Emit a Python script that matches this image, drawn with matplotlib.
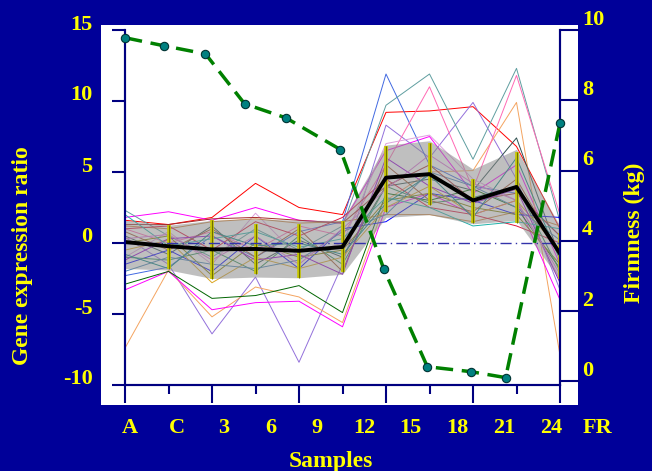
import numpy as np
import matplotlib
matplotlib.use("Agg")
import matplotlib.pyplot as plt
import matplotlib.transforms as mtransforms
from matplotlib.patches import Rectangle

plt.rcParams["axes.unicode_minus"] = False

# ---- data ----
samples = ["A", "C", "3", "6", "9", "12", "15", "18", "21", "24", "FR"]

# individual gene profiles (log ratio)
gene_profiles = {
    "red":          [1.6, 1.3, 1.8, 4.2, 2.5, 2.0, 9.2, 9.3, 9.6, 6.8, 1.0],
    "magenta":      [1.8, 2.2, 1.6, 2.5, 1.6, 1.4, 6.5, 7.5, 3.5, 5.5, -1.5],
    "mediumpurple": [0.4, -1.5, -6.4, -2.4, -8.4, -1.5, 8.3, 6.0, 9.9, 4.5, -3.3],
    "sandybrown":   [-7.4, -1.9, -5.2, -3.1, -3.8, -5.6, 3.0, 5.0, 5.1, 9.9, -7.9],
    "fuchsia":      [-3.3, -2.0, -4.7, -4.2, -4.1, -5.9, 2.5, 3.5, 2.0, 3.0, -4.0],
    "darkgreen":    [-2.9, -2.0, -3.9, -3.7, -3.0, -4.9, 3.5, 3.0, 3.8, 2.5, -1.8],
    "royalblue":    [-2.3, -1.7, 0.5, -1.0, 0.8, 1.5, 11.9, 5.5, 4.0, 3.5, 0.5],
    "cadetblue":    [2.3, 0.5, -1.0, 1.0, -0.5, 1.2, 9.7, 11.9, 5.9, 12.3, 1.5],
    "hotpink":      [1.0, 0.0, 0.8, -0.5, 1.2, 0.5, 5.5, 11.0, 3.8, 11.8, 2.0],
    "darkslategray":[0.5, -0.8, 1.2, -1.5, 0.2, -1.0, 4.0, 4.5, 3.7, 7.4, -1.0],
    "plum":         [-1.0, 0.8, -1.5, 2.1, -1.0, 0.0, 7.0, 7.6, 4.5, 3.0, -2.5],
    "peru":         [1.2, 1.0, 1.5, 1.7, 1.4, 1.5, 2.0, 2.0, 1.5, 2.2, 1.2],
    "blue":         [-1.5, -0.5, -2.0, 0.5, -1.8, 1.0, 1.5, 3.5, 3.0, 2.0, 1.8],
    "crimson":      [1.0, 1.2, -0.5, 1.5, 0.5, 1.8, 4.5, 2.5, 2.0, 1.2, 0.0],
    "olive":        [0.0, 0.5, -2.3, 0.0, -1.0, -0.5, 3.0, 3.5, 2.5, 2.0, -1.5],
    "seagreen":     [-1.0, -1.2, -0.5, -2.0, 0.5, -1.5, 4.0, 2.8, 3.2, 4.0, -2.0],
    "goldenrod":    [-0.5, 0.2, -2.8, -1.0, -1.8, -1.0, 2.5, 4.0, 2.0, 3.0, -0.5],
    "steelblue":    [-2.0, -1.0, -1.5, -1.8, -1.2, 0.8, 2.0, 5.0, 4.0, 2.5, 0.2],
    "sienna":       [0.8, -0.5, 1.0, -1.0, 1.0, -2.0, 5.5, 3.0, 2.2, 4.5, -0.8],
    "brown":        [1.3, 1.3, 1.7, 1.8, 1.6, 1.4, 4.0, 5.5, 3.0, 3.5, 0.5],
    "darkviolet":   [-1.2, 0.3, 0.5, -1.2, -0.8, -2.2, 6.0, 4.0, 2.8, 3.8, -2.8],
    "lightseagreen":[2.0, -0.2, 0.3, 0.8, -0.3, 0.3, 3.2, 2.5, 1.2, 1.5, 1.0],
    "teal":         [-0.8, -1.8, 0.8, -0.2, 0.0, -0.8, 2.8, 4.8, 1.8, 6.0, -1.2],
    "orchid":       [0.3, 0.6, -1.2, 0.5, -1.5, 1.0, 3.8, 6.2, 4.2, 3.0, -2.2],
}

mean_ratio = [0.07, -0.23, -0.45, -0.42, -0.55, -0.28, 4.6, 4.85, 3.0, 3.95, -0.75]
band_hi = [1.6, 1.25, 1.6, 1.7, 1.6, 1.6, 6.9, 7.2, 5.2, 6.6, 1.2]
band_lo = [-1.8, -1.9, -2.5, -2.4, -2.45, -2.2, 1.8, 2.0, 1.35, 1.6, -2.6]
err_hi = [np.nan, 1.24, 1.6, 1.36, 1.36, 1.55, 6.8, 7.07, 4.5, 6.4, 0.7]
err_lo = [np.nan, -1.8, -2.5, -2.16, -2.44, -2.04, 2.2, 2.7, 1.4, 1.4, -2.5]

# firmness (kg), sampled at slightly different positions
firm_x = [0, 0.9, 1.85, 2.75, 3.7, 4.95, 5.95, 6.95, 7.95, 8.75, 10]
firmness = [9.78, 9.55, 9.32, 7.9, 7.5, 6.6, 3.2, 0.42, 0.28, 0.11, 7.35]

# ---- styling ----
BG = "#000099"
YEL = "#FFFF00"
NAVY = "#000080"
FONT = dict(family="Liberation Serif", weight="bold", color=YEL)

fig = plt.figure(figsize=(6.52, 4.71), dpi=100, facecolor=BG)
W, H = 652, 471
fig.add_artist(Rectangle((101 / W, 1 - 405 / H), 477 / W, 380 / H,
                         transform=fig.transFigure, facecolor="white",
                         edgecolor="none", zorder=-1))

ax = fig.add_axes([125 / W, 1 - 385 / H, 435 / W, 355 / H])
ax.set_facecolor("none")
x = np.arange(len(samples))

for color, vals in gene_profiles.items():
    ax.plot(x, vals, color=color, lw=0.7, zorder=2)

ax.fill_between(x, band_lo, band_hi, color="#8C8C8C", alpha=0.55,
                lw=0, zorder=3)
ax.vlines(x, err_lo, err_hi, color="#C8C800", lw=2.6, zorder=4)
ax.vlines(x, err_lo, err_hi, color="#6E6E00", lw=0.8, zorder=4)
ax.axhline(0, color="#3333AA", lw=1, ls=(0, (8, 3, 1, 3)), zorder=4)
ax.plot(x, mean_ratio, color="black", lw=2.8, zorder=5)

ax.set_xlim(0, 10)
ax.set_ylim(-10, 15)
ax.set_yticks([-10, -5, 0, 5, 10, 15])
ax.set_xticks([0, 2, 4, 6, 8, 10])
ax.set_xticks([1, 3, 5, 7, 9], minor=True)
ax.set_xticklabels([])
ax.tick_params(axis="x", which="major", length=13, width=1.5, color=NAVY)
ax.tick_params(axis="x", which="minor", length=6.5, width=1.5, color=NAVY)
ax.tick_params(axis="y", length=9.4, width=1.5, color=NAVY, pad=14,
               labelcolor=YEL, labelsize=16)
for lab in ax.get_yticklabels():
    lab.set_fontfamily("Liberation Serif")
    lab.set_fontweight("bold")
    lab.set_transform(lab.get_transform() +
                      mtransforms.ScaledTranslation(0, 0.08, fig.dpi_scale_trans))
for side in ["left", "bottom", "right"]:
    ax.spines[side].set_color(NAVY)
    ax.spines[side].set_linewidth(1.5)
ax.spines["top"].set_visible(False)

# sample labels (spaced a little wider than the ticks, as in the original)
label_pos = np.linspace(0.12, 10.87, len(samples))
trans = mtransforms.blended_transform_factory(ax.transData, fig.transFigure)
for xp, s in zip(label_pos, samples):
    ax.text(xp, 1 - 428 / H, s, transform=trans, ha="center", va="center",
            fontsize=16, clip_on=False, **FONT)

ax2 = ax.twinx()
ax2.plot(firm_x, firmness, color="#008000", lw=2.5, dashes=(5, 2.5),
         marker="o", markersize=6, markerfacecolor="#008080",
         markeredgecolor="#003333", markeredgewidth=0.8, clip_on=False,
         zorder=6)
ax2.set_ylim(-0.1, 10)
ax2.set_yticks([0, 2, 4, 6, 8, 10])
ax2.tick_params(axis="y", length=13.7, width=1.5, color=NAVY, pad=2,
                labelcolor=YEL, labelsize=16)
for lab in ax2.get_yticklabels():
    lab.set_fontfamily("Liberation Serif")
    lab.set_fontweight("bold")
    lab.set_transform(lab.get_transform() +
                      mtransforms.ScaledTranslation(0, 0.13, fig.dpi_scale_trans))
for side in ["left", "bottom", "right"]:
    ax2.spines[side].set_color(NAVY)
    ax2.spines[side].set_linewidth(1.5)
ax2.spines["top"].set_visible(False)

fig.text(23 / W, 1 - 256 / H, "Gene expression ratio", rotation=90,
         ha="center", va="center", fontsize=17, **FONT)
fig.text(634 / W, 1 - 233 / H, "Firmness (kg)", rotation=90,
         ha="center", va="center", fontsize=17, **FONT)
fig.text(331 / W, 1 - 461 / H, "Samples", ha="center", va="center",
         fontsize=17, **FONT)

fig.savefig("out.png", dpi=100, facecolor=BG)
